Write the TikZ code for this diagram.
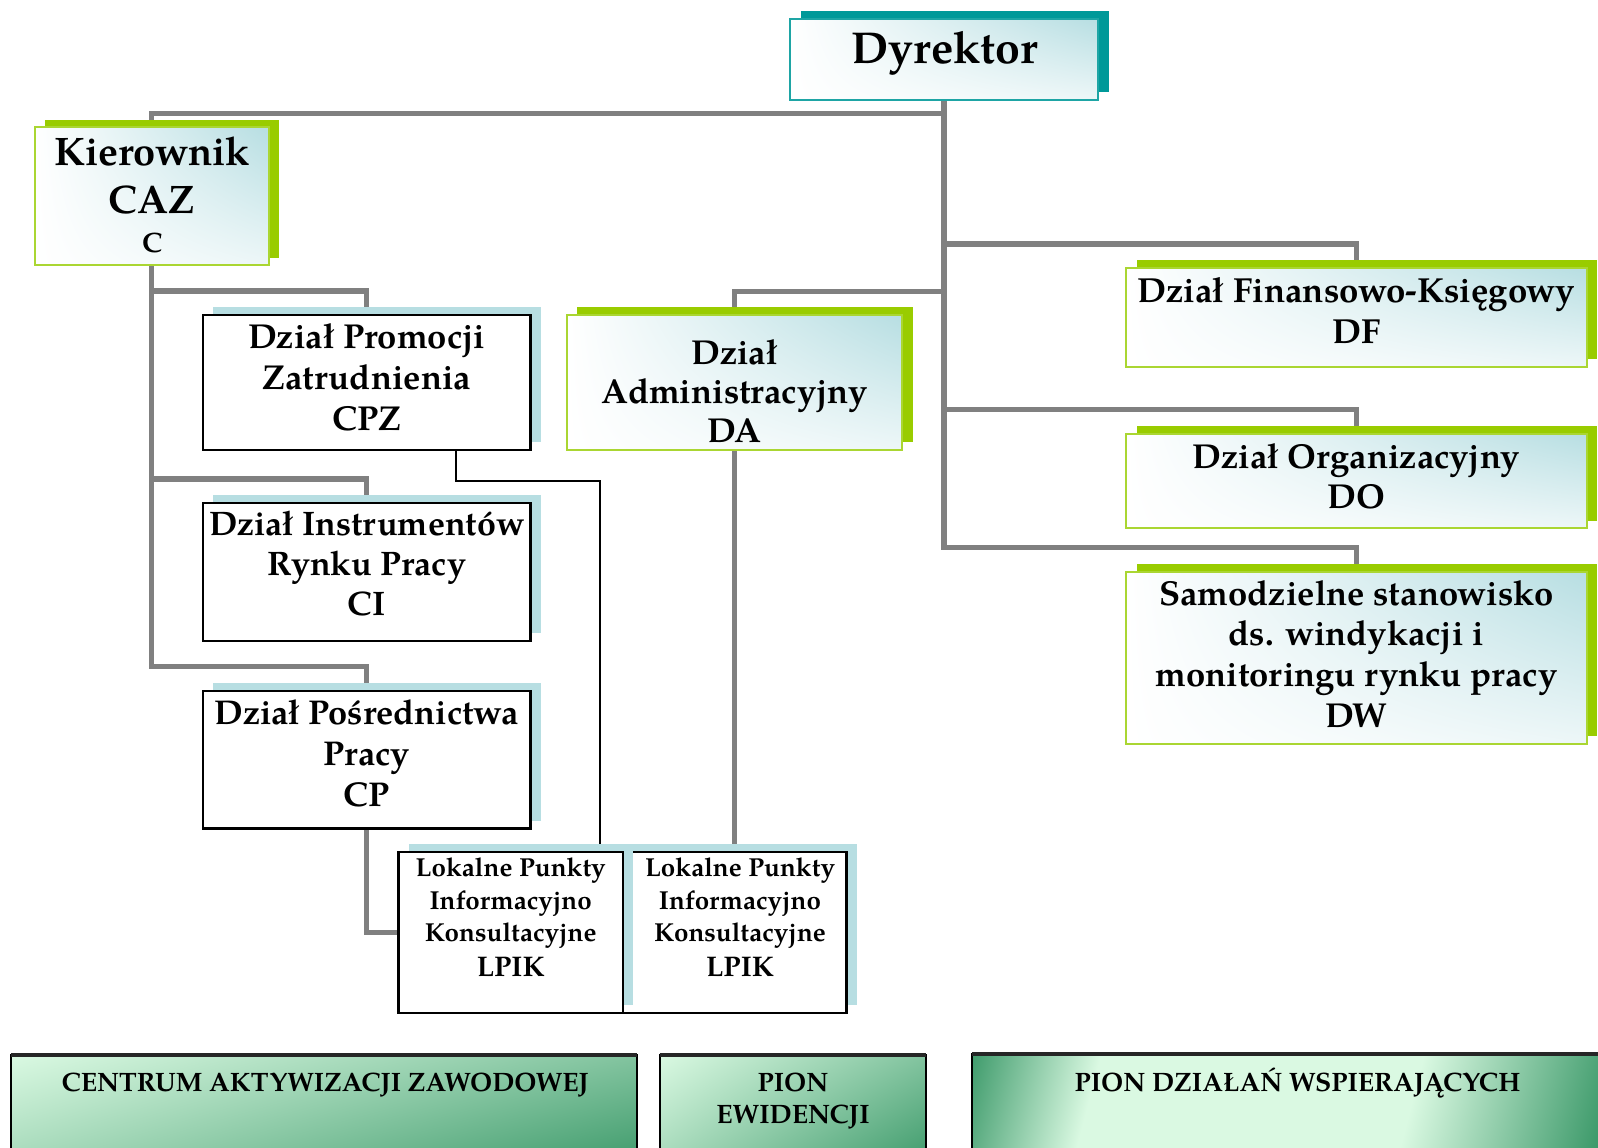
\documentclass[tikz,border=0pt]{standalone}
\usepackage{fontspec}
\setmainfont{TeX Gyre Pagella}
\usetikzlibrary{shadows,shadings}
\definecolor{lb}{RGB}{183,222,226}
\definecolor{tealS}{RGB}{0,153,153}
\definecolor{tealB}{RGB}{30,165,165}
\definecolor{grS}{RGB}{153,204,0}
\definecolor{grB}{RGB}{170,214,50}
\definecolor{connc}{RGB}{128,128,128}
\definecolor{mintL}{RGB}{218,249,226}
\definecolor{mintD}{RGB}{58,152,104}
\pgfdeclarelayer{bg}
\pgfsetlayers{bg,main}
\pgfdeclarehorizontalshading{pdws}{100bp}{color(0bp)=(mintD); color(19bp)=(mintD); color(31bp)=(mintL); color(60bp)=(mintL); color(78bp)=(mintD); color(100bp)=(mintD)}
\newcommand\mlines[3]{\fontsize{#1}{#2}\selectfont\bfseries\begin{tabular}[t]{@{}c@{}}#3\end{tabular}}
\tikzset{
  box/.style={rectangle, inner sep=0pt, outer sep=0pt},
  blueshade/.style={upper left=white, upper right=lb, lower left=white, lower right=lb!25!white},
  dyrbox/.style={box, blueshade, draw=tealB, line width=1pt, general shadow={fill=tealS, shadow xshift=5.7pt, shadow yshift=4pt}},
  grbox/.style={box, blueshade, draw=grB, line width=1pt, general shadow={fill=grS, shadow xshift=5.3pt, shadow yshift=3.8pt}},
  bkbox/.style={box, fill=white, draw=black, line width=1.2pt, general shadow={fill=lb, shadow xshift=5.1pt, shadow yshift=3.8pt}},
  txt/.style={inner sep=0pt, outer sep=0pt, anchor=base},
  conn/.style={draw=connc, line width=2.7pt},
  thinl/.style={draw=black, line width=1pt},
  barbox/.style={box, draw=none},
  barside/.style={draw=black, line width=1pt},
  bartop/.style={draw=black!85, line width=2pt},
}
\begin{document}
\begin{tikzpicture}[x=0.5pt,y=-0.5pt]
\useasboundingbox (0,0) rectangle (1598,1147);
% boxes
\node[dyrbox, minimum width=154pt, minimum height=40.5pt] (dyr) at (944,59.5) {};
\node[grbox, minimum width=117.05pt, minimum height=69pt] (kier) at (151.55,196.3) {};
\node[bkbox, minimum width=163.75pt, minimum height=67.5pt] (cpz) at (366.75,382.5) {};
\node[bkbox, minimum width=163.75pt, minimum height=68.85pt] (ci) at (366.75,571.85) {};
\node[bkbox, minimum width=163.75pt, minimum height=68.75pt] (cp) at (366.75,759.75) {};
\node[grbox, minimum width=167.75pt, minimum height=67.3pt] (da) at (734.45,382.3) {};
\node[grbox, minimum width=230.15pt, minimum height=49.35pt] (df) at (1356.35,317.35) {};
\node[grbox, minimum width=230.15pt, minimum height=47.4pt] (dorg) at (1356.35,480.9) {};
\node[grbox, minimum width=230.15pt, minimum height=86.15pt] (dw) at (1356.35,657.85) {};
\node[bkbox, minimum width=111.9pt, minimum height=80.5pt] (lpik2) at (734.6,932.2) {};
\node[bkbox, minimum width=112.05pt, minimum height=80.5pt] (lpik1) at (510.65,932.2) {};
% texts
\node[txt] (dyrT) at (944.7,63.3) {\mlines{22.3pt}{27pt}{Dyrektor}};
\node[txt] (kierT) at (152.2,165) {\mlines{19.9pt}{24.15pt}{Kierownik\\CAZ\\[-4.45pt]\fontsize{14pt}{17pt}\selectfont C}};
\node[txt] (cpzT) at (366.75,348.5) {\mlines{17.3pt}{20.5pt}{Dział Promocji\\Zatrudnienia\\CPZ}};
\node[txt] (ciT) at (366.75,535.4) {\mlines{17pt}{20.1pt}{Dział Instrumentów\\Rynku Pracy\\CI}};
\node[txt] (cpT) at (366.75,724.6) {\mlines{17.2pt}{20.55pt}{Dział Pośrednictwa\\Pracy\\CP}};
\node[txt] (daT) at (734.45,364) {\mlines{17.3pt}{19.6pt}{Dział\\Administracyjny\\DA}};
\node[txt] (dfT) at (1356.35,302.3) {\mlines{17.4pt}{20.5pt}{Dział Finansowo-Księgowy\\DF}};
\node[txt] (doT) at (1356.35,468.3) {\mlines{17.3pt}{20pt}{Dział Organizacyjny\\DO}};
\node[txt] (dwT) at (1356.35,605) {\mlines{17.3pt}{20.4pt}{Samodzielne stanowisko\\ds. windykacji i\\monitoringu rynku pracy\\DW}};
\node[txt] (lpik1T) at (510.7,876.7) {\mlines{13pt}{16.25pt}{Lokalne Punkty\\Informacyjno\\Konsultacyjne\\[1.25pt]\fontsize{14.2pt}{17pt}\selectfont LPIK}};
\node[txt] (lpik2T) at (740,876.7) {\mlines{13pt}{16.25pt}{Lokalne Punkty\\Informacyjno\\Konsultacyjne\\[1.25pt]\fontsize{14.2pt}{17pt}\selectfont LPIK}};
% bottom bars
\node[barbox, upper left=mintL, upper right=mintL!45!mintD, lower left=mintL!65!mintD, lower right=mintD, minimum width=313.25pt, minimum height=57.5pt] (caz) at (324.05,1112.5) {};
\node[barbox, upper left=mintL, upper right=mintL!45!mintD, lower left=mintL!65!mintD, lower right=mintD, minimum width=133.4pt, minimum height=57.5pt] (ewi) at (792.9,1112.5) {};
\node[barbox, shade, shading=pdws, shading angle=-14.6, minimum width=325.4pt, minimum height=58pt] (pdw) at (1297.6,1112) {};
\foreach \b in {caz,ewi,pdw}{
  \draw[barside] (\b.south west) -- (\b.north west) -- (\b.north east) -- (\b.south east);
  \draw[bartop] (\b.north west) -- (\b.north east);
}
\node[txt] (cazT) at (325.3,1091.5) {\mlines{13.3pt}{15.9pt}{CENTRUM AKTYWIZACJI ZAWODOWEJ}};
\node[txt] (ewiT) at (793,1091.5) {\mlines{13.3pt}{15.9pt}{PION\\EWIDENCJI}};
\node[txt] (pdwT) at (1297.5,1091.5) {\mlines{13.3pt}{15.9pt}{PION DZIAŁAŃ WSPIERAJĄCYCH}};
% connectors
\begin{pgfonlayer}{bg}
\fill[white] (0,0) rectangle (1598,1147);
\coordinate (busK) at (0,113.3);
\coordinate (busDF) at (0,244);
\coordinate (busDA) at (0,291.5);
\coordinate (busDO) at (0,409.3);
\coordinate (busDW) at (0,547.7);
\coordinate (busCPZ) at (0,291);
\coordinate (busCI) at (0,479);
\coordinate (busCP) at (0,666.7);
\coordinate (t1) at (455.9,480.7);
\coordinate (t2) at (599.5,480.7);
\draw[conn] (dyr.south) -- (dyr.south |- busDW) -| (dw.north);
\draw[conn] (dyr.south |- busK) -| (kier.north);
\draw[conn] (dyr.south |- busDF) -| (df.north);
\draw[conn] (dyr.south |- busDA) -| (da.north);
\draw[conn] (dyr.south |- busDO) -| (dorg.north);
\draw[conn] (da.south) -- (da.south |- lpik2.north);
\draw[conn] (kier.south) -- (kier.south |- busCP) -| (cp.north);
\draw[conn] (kier.south |- busCPZ) -| (cpz.north);
\draw[conn] (kier.south |- busCI) -| (ci.north);
\draw[conn] (cp.south) |- (lpik1.west);
\draw[thinl] (cpz.south -| t1) -- (t1) -- (t2) -- (t2 |- lpik1.north);
\end{pgfonlayer}
\end{tikzpicture}
\end{document}
